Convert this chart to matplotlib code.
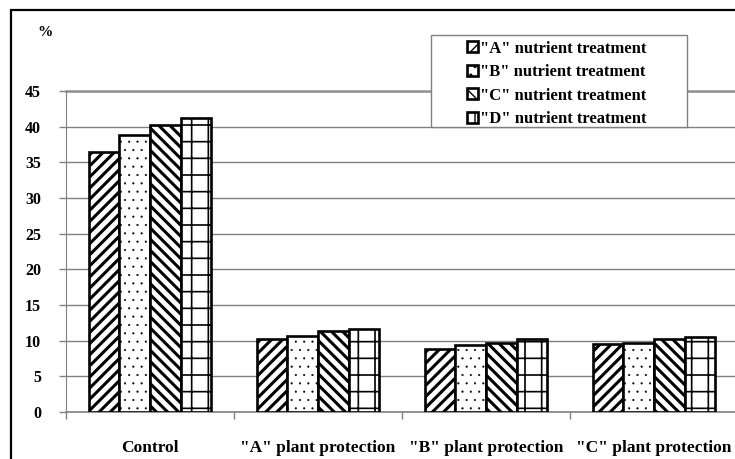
import matplotlib
matplotlib.use("Agg")
import matplotlib.pyplot as plt
from matplotlib.patches import Rectangle
import numpy as np

categories = ['Control', '"A" plant protection', '"B" plant protection', '"C" plant protection']
series_names = ['"A" nutrient treatment', '"B" nutrient treatment',
                '"C" nutrient treatment', '"D" nutrient treatment']
treat_a = [36.5, 10.2, 8.9, 9.5]
treat_b = [38.9, 10.7, 9.4, 9.7]
treat_c = [40.2, 11.4, 9.7, 10.2]
treat_d = [41.2, 11.7, 10.2, 10.5]
y_ticks = [0, 5, 10, 15, 20, 25, 30, 35, 40, 45]

HATCHES = ['///', '..', '\\\\\\', '+']
HATCH_LW = [2.2, 0.3, 2.2, 1.2]

W, H = 735, 459
plt.rcParams['font.family'] = ['Liberation Serif', 'DejaVu Serif']
plt.rcParams['font.weight'] = 'bold'

fig = plt.figure(figsize=(W / 100, H / 100), dpi=100)

def px(x0, y0, x1, y1):
    # pixel box (top-left origin) -> figure fraction rect
    return [x0 / W, 1 - y1 / H, (x1 - x0) / W, (y1 - y0) / H]

ax = fig.add_axes(px(66, 91, 738, 412))

values = [treat_a, treat_b, treat_c, treat_d]
x = np.arange(len(categories)) + 0.5
bw = 0.183
handles = []
for i, vals in enumerate(values):
    with plt.rc_context({'hatch.linewidth': HATCH_LW[i], 'hatch.color': 'black'}):
        bars = ax.bar(x + (i - 1.5) * bw, vals, bw, color='white', edgecolor='black',
                      linewidth=1.9, hatch=HATCHES[i], label=series_names[i], zorder=3)
    handles.append(bars)

ax.set_xlim(0, 4)
ax.set_ylim(0, 45)
ax.set_yticks(y_ticks)
ax.set_yticklabels([str(v) for v in y_ticks])
ax.yaxis.grid(True, color='#808080', linewidth=1.0, zorder=0)
ax.set_axisbelow(True)

ax.set_xticks(x)
ax.set_xticklabels(categories)
ax.set_xticks(np.arange(0, 5), minor=True)
ax.tick_params(axis='x', which='major', length=0, pad=20, labelsize=12.5)
ax.tick_params(axis='x', which='minor', length=5, width=1, color='#808080', direction='out')
ax.tick_params(axis='y', length=5, width=1, color='#808080', pad=13, labelsize=11.5)

for s in ['top', 'right']:
    ax.spines[s].set_visible(False)
ax.spines['left'].set_color('#808080')
ax.spines['bottom'].set_color('#808080')
ax.spines['bottom'].set_linewidth(1.2)
ax.axhline(45, color='#909090', linewidth=1.8, zorder=1, clip_on=False)

# outer border
fig.add_artist(Rectangle((11 / W, -0.1), 1.2, 1 - 10 / H + 0.1, transform=fig.transFigure,
                         fill=False, edgecolor='black', linewidth=1.6))

fig.text(37 / W, 1 - 32 / H, '%', fontsize=11, ha='left', va='center')

# legend box
fig.add_artist(Rectangle((431 / W, 1 - 127 / H), (687 - 431) / W, (127 - 35) / H,
                         transform=fig.transFigure, facecolor='white',
                         edgecolor='#808080', linewidth=1.0, zorder=5))
leg = fig.legend(handles=handles, labels=series_names, loc='center',
                 bbox_to_anchor=(557 / W, 1 - 84 / H), frameon=False,
                 fontsize=12, handlelength=0.65, handleheight=0.65,
                 handletextpad=0.15, labelspacing=0.45, borderpad=0)
leg.set_zorder(6)

fig.savefig('out.png', dpi=100)
